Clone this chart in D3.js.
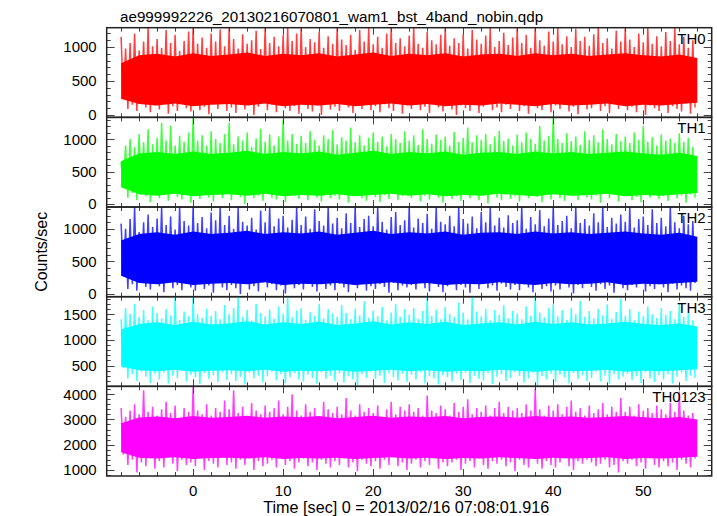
<!DOCTYPE html>
<html><head><meta charset="utf-8">
<script src="https://cdn.jsdelivr.net/npm/d3@7"></script>
<style>
body{margin:0;background:#fff}
svg{display:block}
text{font-family:"Liberation Sans",Arial,Helvetica,sans-serif;fill:#000}
</style>
</head><body>
<svg id="chart" width="717" height="516"></svg>
<script>
// ---------- text ----------
const titleText = "ae999992226_20130216070801_wam1_bst_4band_nobin.qdp";
const xLabelText = "Time [sec] 0 = 2013/02/16 07:08:01.916";
const yLabelText = "Counts/sec";

// ---------- panels ----------
const panelNames = ["TH0", "TH1", "TH2", "TH3", "TH0123"];
const panelColors = ["#ff0000", "#00ff00", "#0000ff", "#00ffff", "#ff00ff"];
const yDomains = [[-35, 1285], [-45, 1335], [-40, 1335], [95, 1840], [760, 4310]];
const yTickLabels = [[0, 500, 1000], [0, 500, 1000], [0, 500, 1000], [500, 1000, 1500], [1000, 2000, 3000, 4000]];
const yMinorSteps = [100, 100, 100, 100, 200];

// ---------- x axis ----------
const xDomain = [-9.6, 57.6];
const xTickLabels = [0, 10, 20, 30, 40, 50];
const xMinorStep = 2;

// ---------- light curve envelopes (0.5 s steps from t = -8) ----------
const tStart = -8, tStep = 0.5;

const th0Hi = [1150,980,1060,1200,950,1080,1285,1010, 1120,990,1250,1060,1180,940,1090,1230,
 1285,1050,1140,990,1200,1080,1260,1010, 1285,1120,980,1190,1050,1100,1240,970,
 1285,1060,1150,1010,1180,1285,1090,1200, 1285,1000,1120,1070,1230,990,1160,1050,
 1285,1110,1030,1180,960,1250,1080,1285, 1040,1150,990,1200,1285,1060,1130,1010,
 1170,1285,1050,990,1220,1100,1040,1180, 1285,1020,1130,1060,1190,980,1250,1110,
 1050,1170,1285,1000,1090,1210,1030,1140, 1285,1060,1180,990,1285,1100,1020,1230,
 1080,1285,1040,1160,1000,1270,1090,1150, 1020,1190,1285,1060,1130,980,1240,1080,
 1285,1110,1000,1200,1070,1285,1050,1160, 1010,1220,1090,1285,1040,1150,990,1100];
const th0Lo = [230,90,150,60,180,110,40,140, 80,170,20,130,60,190,100,50,
 150,70,120,10,160,90,200,60, 110,30,170,80,140,0,120,180,
 70,150,40,190,100,60,130,20, 160,90,50,140,0,170,80,120,
 60,180,110,30,150,90,200,70, 130,40,160,100,60,190,20,140,
 90,150,70,120,30,170,110,50, 180,80,0,140,100,60,160,30,
 120,190,70,110,40,150,90,170, 60,130,20,180,100,70,150,40,
 140,90,190,50,120,10,160,80, 100,170,60,130,30,190,90,150,
 70,120,40,180,0,140,100,60, 160,30,130,90,50,170,20,110];

const th1Hi = [650,900,1000,880,1080,950,1150,920, 1020,1250,980,1210,900,1050,960,1100,
 1335,980,1060,900,1120,1000,940,1080, 1250,920,1040,980,1100,880,1010,1160,
 960,1070,900,1040,1300,980,1080,930, 1050,940,1120,990,900,1060,1000,1140,
 920,1030,980,1180,950,1060,900,1020, 1100,960,1040,890,1080,1000,940,1120,
 980,1060,910,1150,1000,930,1070,990, 1040,900,1110,960,1020,1180,950,1060,
 990,1080,920,1040,1130,970,1010,900, 1070,950,1100,1000,930,1200,980,1050,
 1335,1000,940,1090,970,1040,910,1120, 990,1060,950,1150,1000,920,1080,970,
 1040,940,1100,990,1200,960,1030,900, 1070,980,1010,940,1090,960,1020,880];
const th1Lo = [260,100,170,60,150,120,30,180, 90,140,50,190,110,70,160,20,
 130,80,170,100,40,150,90,190, 60,140,110,0,170,90,130,50,
 180,100,70,150,30,160,120,80, 140,60,190,100,40,170,90,130,
 70,150,20,120,180,90,50,160, 110,30,140,80,170,60,120,190,
 90,150,40,130,70,180,100,20, 160,80,120,50,190,90,140,60,
 130,10,170,100,60,150,80,120, 40,160,90,140,110,30,170,70,
 150,90,50,180,120,60,140,100, 70,130,20,160,90,150,40,120,
 180,60,110,30,140,100,170,80, 120,50,160,90,130,20,150,100];

const th2Hi = [1080,1000,1150,1335,950,1100,1220,1030, 1160,1335,1060,1190,990,1335,1120,1050,
 1335,1090,1180,1010,1250,1130,1335,1060, 1200,1000,1335,1110,1050,1170,990,1280,
 1100,1335,1040,1160,1200,1020,1140,1335, 1060,1190,1000,1300,1120,1050,1335,1080,
 1170,1010,1240,1090,1335,1030,1150,1200, 1040,1335,1110,990,1180,1260,1060,1130,
 1335,1020,1160,1090,1230,1000,1335,1110, 1070,1200,1040,1335,1150,1080,1190,1010,
 1260,1100,1335,1050,1170,1020,1210,1090, 1130,1335,1000,1180,1070,1290,1040,1160,
 1335,1060,1120,1200,1010,1335,1090,1150, 1050,1240,1100,1335,1030,1170,1080,1220,
 1110,1335,1020,1150,1190,1060,1300,1090, 1170,1040,1335,1100,1010,1200,1070,1120];
const th2Lo = [300,80,150,50,190,110,70,160, 120,30,170,90,140,60,180,100,
 50,150,80,130,20,170,100,60, 140,90,0,160,70,120,40,180,
 100,150,60,130,10,170,90,140, 70,190,110,40,150,80,130,60,
 160,100,30,140,90,180,50,120, 80,150,110,20,170,60,130,100,
 140,70,180,90,40,160,110,30, 120,170,60,140,100,20,150,80,
 180,90,130,50,160,110,70,140, 60,150,100,30,170,80,120,40,
 130,70,160,100,10,140,90,180, 110,50,150,80,130,20,170,90,
 60,140,100,170,40,120,80,150, 100,30,160,70,130,90,50,170];

const th3Hi = [1400,1620,1500,1700,1450,1580,1380,1650, 1520,1420,1600,1480,1840,1390,1550,1460,
 1840,1500,1430,1610,1470,1560,1400,1680, 1500,1620,1840,1450,1580,1380,1700,1520,
 1460,1590,1410,1650,1500,1840,1440,1570, 1620,1390,1540,1470,1700,1420,1600,1510,
 1450,1680,1520,1400,1610,1480,1750,1430, 1570,1460,1640,1380,1530,1700,1450,1600,
 1490,1620,1410,1560,1840,1470,1590,1400, 1640,1500,1450,1720,1530,1400,1840,1550,
 1460,1600,1380,1580,1490,1680,1420,1560, 1510,1400,1650,1470,1840,1530,1440,1620,
 1700,1460,1580,1390,1620,1500,1760,1450, 1560,1420,1600,1480,1690,1410,1540,1800,
 1470,1600,1380,1550,1460,1650,1500,1430, 1620,1490,1560,1400,1700,1450,1520,1380];
const th3Lo = [450,250,330,200,380,280,160,340, 230,360,150,300,260,390,190,320,
 270,140,350,240,310,180,370,220, 330,200,280,130,360,250,300,170,
 290,380,210,330,150,270,350,230, 190,320,260,140,370,240,300,200,
 350,170,290,230,120,330,260,380, 240,300,160,350,270,210,340,180,
 320,230,370,150,290,250,130,310, 270,190,340,220,360,160,300,240,
 210,350,140,280,330,200,260,370, 300,170,250,360,120,290,230,340,
 180,320,270,150,350,240,310,200, 260,380,190,300,140,330,230,280,
 340,220,290,160,370,250,180,310, 230,330,150,280,360,200,300,260];

const th0123Hi = [3450,3100,3350,3600,3200,4150,3300,3500, 3150,3400,3700,3250,3550,3050,3450,3300,
 4300,3350,3200,3600,3150,3450,3300,3750, 3400,4150,3250,3500,3100,3650,3350,3200,
 3550,3300,3450,3750,3200,3500,4000,3350, 3150,3600,3300,3450,3050,3700,3400,3250,
 3500,3200,3850,3350,3150,3600,3300,3450, 3250,3550,3100,3400,3700,3200,3500,3350,
 3600,3300,3450,3150,3950,3350,3250,3550, 3400,3150,3650,3300,3500,3800,3200,3450,
 3300,3550,3150,3450,3700,3250,3500,3350, 3450,3250,3600,3350,4200,3400,3150,3550,
 3350,3600,3200,3500,3750,3300,3450,3150, 3550,3250,3400,3650,3200,3500,3300,3850,
 3300,3500,3150,3600,3350,3450,3250,3550, 3400,3200,3650,3300,4100,3350,3150,3250];
const th0123Lo = [1600,1200,1400,900,1300,1150,1450,1050, 1350,1100,1500,1250,950,1400,1200,1300,
 1150,1450,1000,1350,1250,1100,1500,1200, 1300,1050,1400,1200,1450,1000,1350,1150,
 1250,1400,1100,1500,1200,1350,1050,1300, 1450,1150,1300,1000,1400,1250,1100,1350,
 1200,1450,1100,1300,950,1400,1250,1150, 1350,1050,1400,1200,1500,1150,1300,1000,
 1250,1400,1100,1350,1200,1450,1050,1300, 1150,1300,1400,1000,1250,1350,1100,1450,
 1200,1050,1350,1250,1400,1150,1300,950, 1400,1200,1100,1450,1250,1050,1350,1200,
 1100,1300,1450,1150,1000,1350,1250,1400, 1300,1150,1250,1400,1100,1200,900,1350,
 1250,1400,1150,1300,1050,1450,1200,1100, 1350,1150,1300,1000,1400,1250,1100,1450];

// ---------- dense core band (2 s steps from t = -8 to 56) ----------
const coreT = [-8,-6,-4,-2,0,2,4,6,8,10,12,14,16,18,20,22,24,26,28,30,32,34,36,38,40,42,44,46,48,50,52,54,56];
const th0CoreLo = [240,160,140,170,130,150,160,140,170,130,150,140,160,130,150,170,140,160,130,150,140,170,150,130,160,140,150,170,130,150,140,160,180];
const th0CoreHi = [760,880,900,860,910,870,890,920,870,900,880,910,860,890,920,870,900,880,910,860,890,900,870,910,880,900,870,890,910,880,860,890,840];
const th1CoreLo = [260,150,130,160,120,140,150,130,160,120,140,130,150,120,140,160,130,150,120,140,130,160,140,120,150,130,140,160,120,140,130,150,170];
const th1CoreHi = [660,780,800,770,810,770,790,820,770,800,780,810,760,790,820,770,800,780,810,760,790,800,770,810,780,800,770,790,810,780,760,790,740];
const th2CoreLo = [280,170,150,180,140,160,170,150,180,140,160,150,170,140,160,180,150,170,140,160,150,180,160,140,170,150,160,180,140,160,150,170,190];
const th2CoreHi = [820,920,950,910,960,920,940,970,920,950,930,960,910,940,970,920,950,930,960,910,940,950,920,960,930,950,920,940,960,930,910,940,880];
const th3CoreLo = [480,410,390,420,380,400,410,390,420,380,400,390,410,380,400,420,390,410,380,400,390,420,400,380,410,390,400,420,380,400,390,410,430];
const th3CoreHi = [1200,1310,1340,1290,1350,1300,1320,1360,1300,1340,1310,1350,1290,1320,1360,1300,1340,1310,1350,1290,1320,1340,1300,1350,1310,1340,1300,1320,1350,1310,1290,1320,1260];
const th0123CoreLo = [1700,1480,1450,1500,1430,1470,1480,1450,1500,1430,1470,1450,1480,1430,1470,1500,1450,1480,1430,1470,1450,1500,1470,1430,1480,1450,1470,1500,1430,1470,1450,1480,1520];
const th0123CoreHi = [2850,3080,3120,3050,3140,3070,3100,3150,3070,3120,3090,3140,3050,3100,3150,3070,3120,3090,3140,3050,3100,3120,3070,3140,3090,3120,3070,3100,3140,3090,3050,3100,3000];

const panelHi = [th0Hi, th1Hi, th2Hi, th3Hi, th0123Hi];
const panelLo = [th0Lo, th1Lo, th2Lo, th3Lo, th0123Lo];
const panelCoreLo = [th0CoreLo, th1CoreLo, th2CoreLo, th3CoreLo, th0123CoreLo];
const panelCoreHi = [th0CoreHi, th1CoreHi, th2CoreHi, th3CoreHi, th0123CoreHi];

// ---------- layout ----------
const plotLeft = 106.7, plotRight = 711.7, plotTop = 27.7, plotBottom = 476;
const nP = panelNames.length;
const pH = (plotBottom - plotTop) / nP;

const svg = d3.select("#chart");
const x = d3.scaleLinear().domain(xDomain).range([plotLeft, plotRight]);
const defs = svg.append("defs");

panelNames.forEach((name, p) => {
  const top = plotTop + p * pH, bot = top + pH;
  const y = d3.scaleLinear().domain(yDomains[p]).range([bot, top]);
  const clipId = "clip" + p;
  defs.append("clipPath").attr("id", clipId).append("rect")
    .attr("x", plotLeft).attr("y", top).attr("width", plotRight - plotLeft).attr("height", pH);

  const g = svg.append("g").attr("clip-path", `url(#${clipId})`);
  const col = panelColors[p];

  // zigzag light curve (spiky fringe)
  const pts = [];
  panelHi[p].forEach((v, i) => {
    const t = tStart + i * tStep;
    pts.push([t, v]);
    pts.push([t + tStep / 2, panelLo[p][i]]);
  });
  g.append("path")
    .datum(pts)
    .attr("fill", "none")
    .attr("stroke", col)
    .attr("stroke-opacity", 0.75)
    .attr("stroke-width", 1.5)
    .attr("d", d3.line().x(d => x(d[0])).y(d => y(d[1])));

  // dense core band, jagged edges
  const coreData = coreT.map((t, i) => ({t, lo: panelCoreLo[p][i], hi: panelCoreHi[p][i]}));
  g.append("path")
    .datum(coreData)
    .attr("fill", col)
    .attr("d", d3.area().x(d => x(d.t)).y0(d => y(d.lo)).y1(d => y(d.hi)));

  // ticks
  const ax = svg.append("g").attr("stroke", "#444").attr("stroke-width", 1);
  const xMin = Math.ceil(xDomain[0] / xMinorStep) * xMinorStep;
  d3.range(xMin, xDomain[1] + 1e-9, xMinorStep).forEach(t => {
    const major = xTickLabels.includes(t) || t % 10 === 0;
    const len = major ? 7 : 4;
    const xx = Math.round(x(t)) + 0.5;
    ax.append("line").attr("x1", xx).attr("x2", xx).attr("y1", bot).attr("y2", bot - len);
    ax.append("line").attr("x1", xx).attr("x2", xx).attr("y1", top).attr("y2", top + len);
  });
  const ys = yMinorSteps[p];
  const yMin = Math.ceil(yDomains[p][0] / ys) * ys;
  d3.range(yMin, yDomains[p][1] + 1e-9, ys).forEach(v => {
    const major = yTickLabels[p].includes(v) || v % 500 === 0 && p < 4;
    const len = major ? 8 : 4;
    const yy = Math.round(y(v)) + 0.5;
    ax.append("line").attr("x1", plotLeft).attr("x2", plotLeft + len).attr("y1", yy).attr("y2", yy);
    ax.append("line").attr("x1", plotRight).attr("x2", plotRight - len).attr("y1", yy).attr("y2", yy);
  });

  // y tick labels
  yTickLabels[p].forEach(v => {
    svg.append("text")
      .attr("x", plotLeft - 10).attr("y", y(v))
      .attr("dy", "0.36em")
      .attr("text-anchor", "end")
      .attr("font-size", 15)
      .text(v);
  });

  // panel name
  svg.append("text")
    .attr("x", plotRight - 6).attr("y", top + 16)
    .attr("text-anchor", "end")
    .attr("font-size", 15)
    .text(name);

  // frame
  svg.append("rect")
    .attr("x", plotLeft).attr("y", top).attr("width", plotRight - plotLeft).attr("height", pH)
    .attr("fill", "none").attr("stroke", "#222").attr("stroke-width", 1.5);
});

// x tick labels
xTickLabels.forEach(t => {
  svg.append("text")
    .attr("x", x(t)).attr("y", 496)
    .attr("text-anchor", "middle")
    .attr("font-size", 15)
    .text(t);
});

// title & axis labels
svg.append("text").attr("x", 120).attr("y", 22).attr("font-size", 15.2).text(titleText);
svg.append("text").attr("x", (plotLeft + plotRight) / 2 - 3).attr("y", 513)
  .attr("text-anchor", "middle").attr("font-size", 16.2).text(xLabelText);
svg.append("text")
  .attr("transform", `translate(47,${(plotTop + plotBottom) / 2}) rotate(-90)`)
  .attr("text-anchor", "middle").attr("font-size", 16).text(yLabelText);
</script>
</body></html>
